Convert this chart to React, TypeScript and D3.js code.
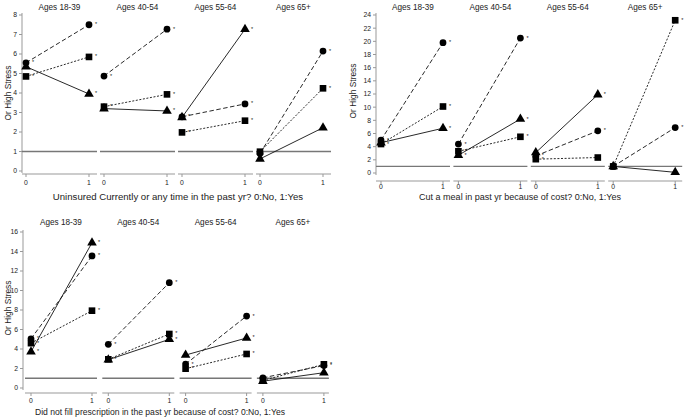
import React from "react";
import * as d3 from "d3";

// ---------- data ----------
const ageGroups = ["Ages 18-39", "Ages 40-54", "Ages 55-64", "Ages 65+"];
const xTickValues = [0, 1];

// Uninsured: [value at 0, value at 1] per age group
const uninsuredCircle = [[5.55, 7.5], [4.87, 7.27], [2.78, 3.44], [0.9, 6.15]];
const uninsuredSquare = [[4.85, 5.85], [3.3, 3.93], [1.98, 2.58], [0.99, 4.24]];
const uninsuredTriangle = [[5.35, 3.95], [3.2, 3.08], [2.75, 7.27], [0.62, 2.22]];
const uninsuredCircleStar = [[1, 1], [1, 1], [1, 1], [0, 1]];
const uninsuredSquareStar = [[1, 1], [1, 1], [1, 1], [0, 1]];
const uninsuredTriangleStar = [[0, 1], [0, 1], [0, 1], [0, 0]];
const uninsuredTicks = [0, 1, 2, 3, 4, 5, 6, 7, 8];

// Cut a meal
const mealCircle = [[5.0, 19.8], [4.4, 20.5], [2.6, 6.4], [1.0, 6.9]];
const mealSquare = [[4.4, 10.1], [3.3, 5.5], [2.1, 2.35], [1.0, 23.2]];
const mealTriangle = [[4.6, 6.8], [2.7, 8.2], [3.1, 11.9], [1.0, 0.1]];
const mealCircleStar = [[1, 1], [1, 1], [1, 1], [0, 1]];
const mealSquareStar = [[1, 1], [1, 1], [1, 0], [0, 1]];
const mealTriangleStar = [[0, 1], [1, 1], [0, 1], [0, 0]];
const mealTicks = [0, 2, 4, 6, 8, 10, 12, 14, 16, 18, 20, 22, 24];

// Did not fill prescription
const rxCircle = [[5.05, 13.55], [4.48, 10.8], [2.45, 7.38], [1.05, 2.3]];
const rxSquare = [[4.6, 7.93], [2.94, 5.54], [1.98, 3.49], [0.78, 2.43]];
const rxTriangle = [[3.72, 14.9], [2.9, 4.99], [3.38, 5.13], [0.7, 1.57]];
const rxCircleStar = [[1, 1], [1, 1], [1, 1], [0, 1]];
const rxSquareStar = [[1, 1], [1, 1], [1, 1], [0, 1]];
const rxTriangleStar = [[1, 1], [0, 1], [0, 1], [0, 0]];
const rxTicks = [0, 2, 4, 6, 8, 10, 12, 14, 16];

const FONT = "'Liberation Sans', Arial, Helvetica, sans-serif";
const TEXT = "#222";
const AXIS = "#999";
const REF = "#777";

type Layout = {
  axisX: number;
  yBottom: number;
  yTop: number;
  yMax: number;
  panelLeft: number;
  panelStep: number;
  panelWidth: number;
  x0Off: number;
  unit: number;
  xAxisY: number;
  tickLabelY: number;
  titleY: number;
  xTitle: string;
  xTitleX: number;
  xTitleY: number;
  xTitleSize: number;
  yTitleX: number;
  yTitleY: number;
};

const seriesStyles = [
  { shape: d3.symbolCircle, size: 36, dash: "4.5,2.5" },
  { shape: d3.symbolSquare, size: 44, dash: "2,1.6" },
  { shape: d3.symbolTriangle, size: 40, dash: "none" },
];

function Group({ layout, ticks, series, stars }: { layout: Layout; ticks: number[]; series: number[][][]; stars: number[][][] }) {
  const L = layout;
  const y = d3.scaleLinear().domain([0, L.yMax]).range([L.yBottom, L.yTop]);
  const axisTop = y(L.yMax) - 2;
  const axisBottom = y(0) + 2;
  return (
    <g>
      {/* y axis */}
      <line x1={L.axisX} x2={L.axisX} y1={axisTop} y2={axisBottom} stroke={AXIS} strokeWidth={1} />
      {ticks.map((t) => (
        <g key={t}>
          <line x1={L.axisX - 3} x2={L.axisX} y1={y(t)} y2={y(t)} stroke={AXIS} strokeWidth={1} />
          <text x={L.axisX - 5} y={y(t)} dy="0.35em" textAnchor="end" fontSize={6.8} fill={TEXT} fontFamily={FONT}>
            {t}
          </text>
        </g>
      ))}
      <text
        transform={`translate(${L.yTitleX},${L.yTitleY}) rotate(-90)`}
        textAnchor="middle"
        dy="0.35em"
        fontSize={8.4}
        fill={TEXT}
        fontFamily={FONT}
      >
        Or High Stress
      </text>
      {ageGroups.map((g, i) => {
        const left = L.panelLeft + i * L.panelStep;
        const x = d3.scaleLinear().domain([0, 1]).range([left + L.x0Off, left + L.x0Off + L.unit]);
        return (
          <g key={g}>
            <text x={left + L.panelWidth / 2} y={L.titleY} dy="0.35em" textAnchor="middle" fontSize={8.2} fill={TEXT} fontFamily={FONT}>
              {g}
            </text>
            {/* reference line at 1 */}
            <line x1={left} x2={left + L.panelWidth} y1={y(1)} y2={y(1)} stroke={REF} strokeWidth={1.3} />
            {/* x axis */}
            <line x1={left} x2={left + L.panelWidth} y1={L.xAxisY} y2={L.xAxisY} stroke={AXIS} strokeWidth={1} />
            {xTickValues.map((t) => (
              <g key={t}>
                <line x1={x(t)} x2={x(t)} y1={L.xAxisY} y2={L.xAxisY + 3} stroke={AXIS} strokeWidth={1} />
                <text x={x(t)} y={L.tickLabelY} dy="0.35em" textAnchor="middle" fontSize={6.8} fill={TEXT} fontFamily={FONT}>
                  {t}
                </text>
              </g>
            ))}
            {series.map((s, si) => {
              const vals = s[i];
              const st = seriesStyles[si];
              const line = d3
                .line<number>()
                .x((_, k) => x(xTickValues[k]))
                .y((v) => y(v));
              return (
                <path
                  key={si}
                  d={line(vals) || ""}
                  fill="none"
                  stroke="#111"
                  strokeWidth={0.9}
                  strokeDasharray={st.dash}
                />
              );
            })}
            {series.map((s, si) => {
              const vals = s[i];
              const st = seriesStyles[si];
              const sym = d3.symbol().type(st.shape).size(st.size)();
              return vals.map((v, k) => (
                <g key={`${si}-${k}`}>
                  <path d={sym || ""} transform={`translate(${x(xTickValues[k])},${y(v)})`} fill="#000" />
                  {stars[si][i][k] ? (
                    <text x={x(xTickValues[k]) + 6} y={y(v) + 1.5} fontSize={5.5} fill={TEXT} fontFamily={FONT}>
                      *
                    </text>
                  ) : null}
                </g>
              ));
            })}
          </g>
        );
      })}
      <text x={L.xTitleX} y={L.xTitleY} dy="0.35em" textAnchor="middle" fontSize={L.xTitleSize} fill={TEXT} fontFamily={FONT}>
        {L.xTitle}
      </text>
    </g>
  );
}

const layoutTL: Layout = {
  axisX: 22, yBottom: 171, yTop: 15, yMax: 8,
  panelLeft: 22, panelStep: 78, panelWidth: 75, x0Off: 4, unit: 63,
  xAxisY: 174, tickLabelY: 183, titleY: 7,
  xTitle: "Uninsured Currently or any time in the past yr? 0:No, 1:Yes",
  xTitleX: 178, xTitleY: 197, xTitleSize: 9.6, yTitleX: 8, yTitleY: 93,
};
const layoutTR: Layout = {
  axisX: 376, yBottom: 173, yTop: 15, yMax: 24,
  panelLeft: 376, panelStep: 77.4, panelWidth: 74, x0Off: 5, unit: 62,
  xAxisY: 181, tickLabelY: 187, titleY: 7,
  xTitle: "Cut a meal in past yr because of cost? 0:No, 1:Yes",
  xTitleX: 520, xTitleY: 197, xTitleSize: 9.0, yTitleX: 353, yTitleY: 91,
};
const layoutBL: Layout = {
  axisX: 23, yBottom: 388, yTop: 232, yMax: 16,
  panelLeft: 25, panelStep: 77.3, panelWidth: 72, x0Off: 6, unit: 61,
  xAxisY: 393, tickLabelY: 401, titleY: 222,
  xTitle: "Did not fill prescription in the past yr because of cost? 0:No, 1:Yes",
  xTitleX: 160, xTitleY: 412, xTitleSize: 8.6, yTitleX: 8, yTitleY: 308,
};

export default function App() {
  return (
    <div style={{ position: "absolute", left: 0, top: 0 }}>
      <svg width={685} height={418} style={{ display: "block", background: "#fff" }}>
        <Group
          layout={layoutTL}
          ticks={uninsuredTicks}
          series={[uninsuredCircle, uninsuredSquare, uninsuredTriangle]}
          stars={[uninsuredCircleStar, uninsuredSquareStar, uninsuredTriangleStar]}
        />
        <Group
          layout={layoutTR}
          ticks={mealTicks}
          series={[mealCircle, mealSquare, mealTriangle]}
          stars={[mealCircleStar, mealSquareStar, mealTriangleStar]}
        />
        <Group
          layout={layoutBL}
          ticks={rxTicks}
          series={[rxCircle, rxSquare, rxTriangle]}
          stars={[rxCircleStar, rxSquareStar, rxTriangleStar]}
        />
      </svg>
    </div>
  );
}
